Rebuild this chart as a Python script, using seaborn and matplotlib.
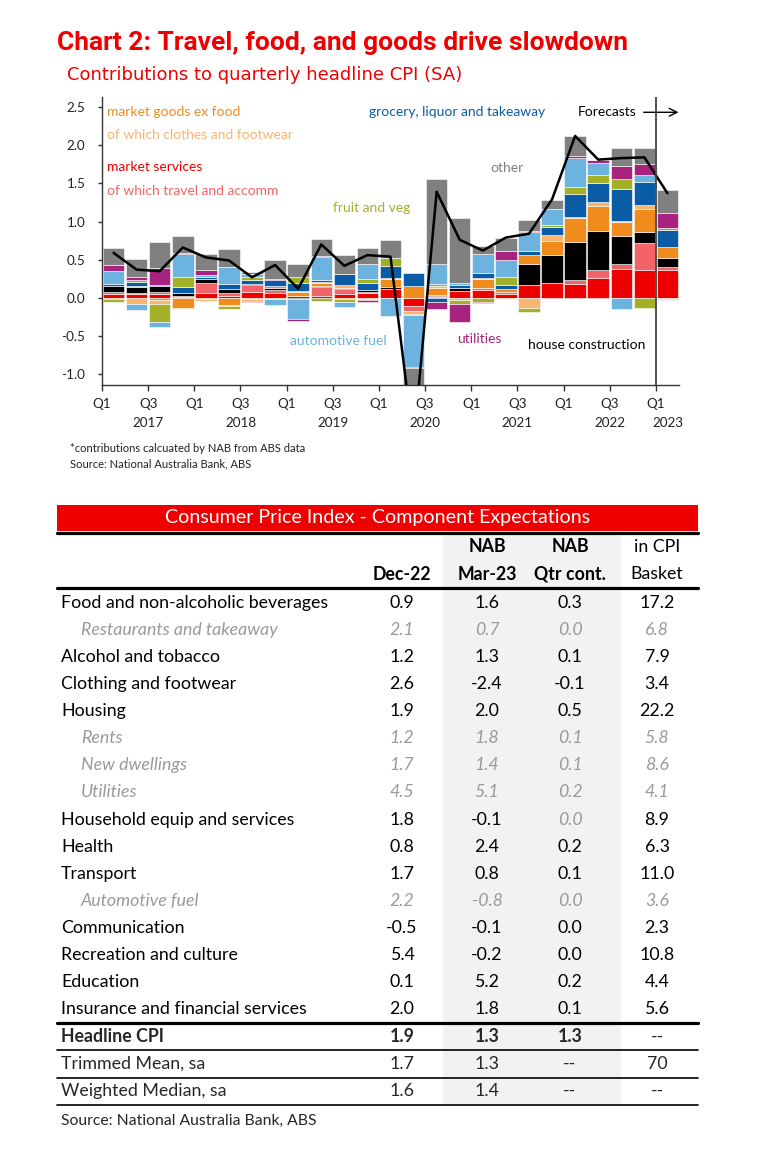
import numpy as np
import seaborn as sns
import matplotlib.pyplot as plt
from matplotlib.patches import Rectangle
from matplotlib.lines import Line2D
import matplotlib.transforms as mtransforms

# ---- chart data: contributions to quarterly headline CPI (ppt) ----
quarters = [f"{y}Q{q}" for y in range(2017, 2024) for q in range(1, 5)][:25]

market_services = [0.05, 0.05, 0.05, 0.01, 0.07, 0.03, 0.08, 0.06, 0.02, 0.03, 0.05, 0.06, 0.12,
                   -0.11, 0.01, 0.09, 0.10, 0.05, 0.17, 0.20, 0.18, 0.26, 0.38, 0.36, 0.37]
travel_accomm = [0.03, 0.02, 0.03, 0.01, 0.13, 0.03, 0.09, 0.04, 0.01, 0.11, 0.07, 0.02, 0.00,
                 -0.06, 0.01, 0.00, 0.03, 0.03, 0.00, 0.00, 0.05, 0.10, 0.07, 0.36, 0.04]
house_construction = [0.07, 0.07, 0.07, 0.05, 0.05, 0.06, 0.01, 0.03, -0.01, 0.01, 0.01, 0.02, 0.02,
                      0.00, 0.02, 0.04, 0.00, 0.00, 0.28, 0.36, 0.50, 0.52, 0.36, 0.14, 0.11]
market_goods = [-0.02, 0.01, -0.03, -0.13, -0.02, -0.09, -0.02, 0.02, 0.05, 0.05, -0.01, -0.02, 0.11,
                0.15, 0.09, 0.00, 0.12, 0.04, 0.11, 0.18, 0.31, 0.32, 0.19, 0.30, 0.15]
clothes_footwear = [0.01, -0.08, -0.05, -0.02, -0.02, -0.01, -0.02, 0.01, 0.01, 0.01, 0.04, -0.01, 0.01,
                    -0.04, 0.03, -0.03, 0.01, -0.02, -0.13, 0.08, 0.02, 0.06, 0.01, 0.06, -0.01]
grocery = [0.02, 0.06, 0.02, 0.07, 0.02, 0.06, 0.06, 0.08, 0.11, 0.03, 0.14, 0.09, 0.16,
           0.17, -0.06, 0.04, 0.06, 0.05, 0.05, 0.11, 0.30, 0.24, 0.41, 0.30, 0.22]
fruit_veg = [-0.03, 0.02, -0.23, 0.14, 0.01, -0.05, 0.04, -0.01, 0.08, -0.04, -0.05, 0.06, 0.10,
             -0.01, 0.02, -0.05, -0.06, 0.10, -0.06, 0.02, 0.09, 0.11, 0.14, -0.13, 0.02]
auto_fuel = [0.17, -0.08, -0.07, 0.29, 0.02, 0.22, 0.03, -0.08, -0.27, 0.30, -0.06, 0.19, -0.24,
             -0.68, 0.26, 0.03, 0.26, 0.22, 0.25, 0.21, 0.38, 0.16, -0.14, 0.09, -0.02]
utilities = [0.08, 0.05, 0.22, 0.02, 0.06, 0.01, -0.01, 0.01, -0.02, 0.01, 0.00, -0.03, 0.00,
             -0.02, -0.08, -0.23, -0.01, 0.13, 0.01, 0.00, 0.03, 0.03, 0.17, 0.14, 0.20]
other = [0.22, 0.23, 0.34, 0.22, 0.21, 0.23, 0.03, 0.25, 0.17, 0.22, 0.25, 0.21, 0.24,
         -1.31, 1.12, 0.84, 0.10, 0.17, 0.15, 0.12, 0.26, 0.01, 0.23, 0.21, 0.30]
headline = [0.59, 0.37, 0.35, 0.66, 0.53, 0.49, 0.27, 0.43, 0.12, 0.70, 0.42, 0.56, 0.54,
            -1.90, 1.39, 0.76, 0.62, 0.79, 0.84, 1.29, 2.12, 1.81, 1.83, 1.84, 1.37]

series = [market_services, travel_accomm, house_construction, market_goods, clothes_footwear,
          grocery, fruit_veg, auto_fuel, utilities, other]
colours = ['#EE0000', '#F36468', '#000000', '#F08C1E', '#F7B570',
           '#0A5CA6', '#A4B128', '#6DB3E0', '#A8227F', '#808080']

tick_labels = ['Q1', 'Q3'] * 6 + ['Q1']
year_labels = ['2017', '2018', '2019', '2020', '2021', '2022', '2023']

# ---- table data ----
row_labels = ['Food and non-alcoholic beverages', 'Restaurants and takeaway', 'Alcohol and tobacco',
              'Clothing and footwear', 'Housing', 'Rents', 'New dwellings', 'Utilities',
              'Household equip and services', 'Health', 'Transport', 'Automotive fuel',
              'Communication', 'Recreation and culture', 'Education', 'Insurance and financial services']
sub_rows = [1, 5, 6, 7, 11]
dec22 = [0.9, 2.1, 1.2, 2.6, 1.9, 1.2, 1.7, 4.5, 1.8, 0.8, 1.7, 2.2, -0.5, 5.4, 0.1, 2.0]
mar23 = [1.6, 0.7, 1.3, -2.4, 2.0, 1.8, 1.4, 5.1, -0.1, 2.4, 0.8, -0.8, -0.1, -0.2, 5.2, 1.8]
qtr_cont = [0.3, 0.0, 0.1, -0.1, 0.5, 0.1, 0.1, 0.2, 0.0, 0.2, 0.1, 0.0, 0.0, 0.0, 0.2, 0.1]
basket = [17.2, 6.8, 7.9, 3.4, 22.2, 5.8, 8.6, 4.1, 8.9, 6.3, 11.0, 3.6, 2.3, 10.8, 4.4, 5.6]

summary_labels = ['Headline CPI', 'Trimmed Mean, sa', 'Weighted Median, sa']
summary_dec22 = ['1.9', '1.7', '1.6']
summary_mar23 = ['1.3', '1.3', '1.4']
summary_qtr = ['1.3', '--', '--']
summary_basket = ['--', '70', '--']

RED = '#EE0000'
GREY_TXT = '#9A9A9A'

sns.set_theme(style="ticks")
plt.rcParams['font.family'] = ['Lato', 'DejaVu Sans']

W, H = 762, 1150
fig = plt.figure(figsize=(W / 100, H / 100), dpi=100)
fig.patch.set_facecolor('white')


def fx(x):
    return x / W


def fy(y):
    return 1 - y / H


# ---- chart ----
ax = fig.add_axes([fx(102), fy(385), 577 / W, 288 / H])
x = np.arange(len(quarters))
pos = np.zeros(len(x))
neg = np.zeros(len(x))
for vals, col in zip(series, colours):
    v = np.array(vals)
    bottom = np.where(v >= 0, pos, neg)
    ax.bar(x, v, bottom=bottom, width=0.93, color=col, edgecolor='white', linewidth=0.4, zorder=2)
    pos += np.clip(v, 0, None)
    neg += np.clip(v, None, 0)

sns.lineplot(x=x, y=headline, color='black', linewidth=1.8, ax=ax, zorder=3)

ax.set_xlim(-0.5, 24.5)
ax.set_ylim(-1.14, 2.63)
ax.axvline(23.5, color='#444444', linewidth=1.3, zorder=4)
sns.despine(ax=ax)
for s in ['left', 'bottom']:
    ax.spines[s].set_color('#333333')
    ax.spines[s].set_linewidth(1.0)

ax.set_xticks(np.arange(-0.5, 24, 2))
ax.set_xticklabels(tick_labels)
ax.set_yticks(np.arange(-1.0, 2.51, 0.5))
ax.set_yticklabels([f"{v:.1f}" for v in np.arange(-1.0, 2.51, 0.5)])
ax.tick_params(axis='x', length=4, width=1, color='#333333', pad=5, labelsize=9.7, labelcolor='#222222')
ax.tick_params(axis='y', length=3, width=1, color='#333333', pad=9, labelsize=9.7, labelcolor='#222222')
ax.set_xlabel('')
ax.set_ylabel('')

trans = mtransforms.blended_transform_factory(ax.transData, ax.transAxes)
year_pos = [1.5, 5.5, 9.5, 13.5, 17.5, 21.5, 24.0]
for xp, lab in zip(year_pos, year_labels):
    ax.text(xp, -0.132, lab, transform=trans, ha='center', va='center', fontsize=9.7, color='#222222')

lab_kw = dict(fontsize=10, ha='left', va='center')
ax.text(-0.28, 2.43, 'market goods ex food', color=colours[3], **lab_kw)
ax.text(-0.28, 2.13, 'of which clothes and footwear', color=colours[4], **lab_kw)
ax.text(-0.28, 1.71, 'market services', color=colours[0], **lab_kw)
ax.text(-0.28, 1.40, 'of which travel and accomm', color=colours[1], **lab_kw)
ax.text(11.07, 2.43, 'grocery, liquor and takeaway', color=colours[5], **lab_kw)
ax.text(16.31, 1.70, 'other', color=colours[9], **lab_kw)
ax.text(9.51, 1.18, 'fruit and veg', color=colours[6], **lab_kw)
ax.text(7.65, -0.56, 'automotive fuel', color=colours[7], **lab_kw)
ax.text(14.88, -0.54, 'utilities', color=colours[8], **lab_kw)
ax.text(17.96, -0.61, 'house construction', color='black', **lab_kw)
ax.text(20.12, 2.43, 'Forecasts', color='black', **lab_kw)
ax.annotate('', xy=(24.6, 2.43), xytext=(22.85, 2.43),
            arrowprops=dict(arrowstyle='->', color='black', lw=1.0, mutation_scale=14),
            annotation_clip=False)

# ---- titles and notes ----
fig.text(fx(57), fy(43), 'Chart 2: Travel, food, and goods drive slowdown', color=RED,
         fontsize=19, fontweight='bold', family=['Roboto', 'DejaVu Sans'], va='center')
fig.text(fx(67), fy(75), 'Contributions to quarterly headline CPI (SA)', color=RED,
         fontsize=13, family=['DejaVu Sans'], va='center')
fig.text(fx(70), fy(448), '*contributions calcuated by NAB from ABS data', fontsize=8,
         color='#222222', va='center')
fig.text(fx(70), fy(464), 'Source: National Australia Bank, ABS', fontsize=8,
         color='#222222', va='center')

# ---- table ----
TL, TR = 57, 698
fig.add_artist(Rectangle((fx(443), fy(1105)), (621 - 443) / W, (1105 - 533) / H,
                         transform=fig.transFigure, facecolor='#F2F2F2', edgecolor='none', zorder=0))
fig.add_artist(Rectangle((fx(TL), fy(531)), (TR - TL) / W, 26 / H,
                         transform=fig.transFigure, facecolor=RED, edgecolor='none', zorder=1))
fig.text(fx(378), fy(518), 'Consumer Price Index - Component Expectations', color='white',
         fontsize=14.1, ha='center', va='center')


def hline(y, lw):
    fig.add_artist(Line2D([fx(TL), fx(TR)], [fy(y), fy(y)], transform=fig.transFigure,
                          color='black', linewidth=lw, zorder=2))


hline(532.5, 2.3)
hline(588, 2.3)
hline(1023, 2.3)
hline(1050, 1.2)
hline(1078, 1.2)
hline(1105, 1.2)

FS = 12.8
col_x = [402, 487, 570, 657]
hdr_kw = dict(fontsize=FS, ha='center', va='center', color='black')
fig.text(fx(487), fy(547), 'NAB', fontweight='bold', **hdr_kw)
fig.text(fx(570), fy(547), 'NAB', fontweight='bold', **hdr_kw)
fig.text(fx(657), fy(547), 'in CPI', **hdr_kw)
fig.text(fx(402), fy(574), 'Dec-22', fontweight='bold', **hdr_kw)
fig.text(fx(487), fy(574), 'Mar-23', fontweight='bold', **hdr_kw)
fig.text(fx(570), fy(574), 'Qtr cont.', fontweight='bold', **hdr_kw)
fig.text(fx(657), fy(574), 'Basket', **hdr_kw)

for i, lab in enumerate(row_labels):
    yy = 603 + 27.07 * i
    sub = i in sub_rows
    style = 'italic' if sub else 'normal'
    col = GREY_TXT if sub else 'black'
    fig.text(fx(81 if sub else 61), fy(yy), lab, fontsize=FS, style=style, color=col, va='center')
    vals = [dec22[i], mar23[i], qtr_cont[i], basket[i]]
    for j, (cx, v) in enumerate(zip(col_x, vals)):
        c, st = col, style
        if lab == 'Household equip and services' and j == 2:
            c, st = GREY_TXT, 'italic'
        fig.text(fx(cx), fy(yy), f"{v:.1f}", fontsize=FS, style=st, color=c, ha='center', va='center')

summary_y = [1037, 1064, 1091]
for k, lab in enumerate(summary_labels):
    w = 'bold' if k == 0 else 'normal'
    yy = summary_y[k]
    fig.text(fx(61), fy(yy), lab, fontsize=FS, fontweight=w, va='center')
    for cx, v in zip(col_x, [summary_dec22[k], summary_mar23[k], summary_qtr[k], summary_basket[k]]):
        fig.text(fx(cx), fy(yy), v, fontsize=FS, fontweight=w if v != '--' else 'normal',
                 ha='center', va='center')

fig.text(fx(61), fy(1121), 'Source: National Australia Bank, ABS', fontsize=11.3, va='center')

fig.savefig('out.png', dpi=100)
